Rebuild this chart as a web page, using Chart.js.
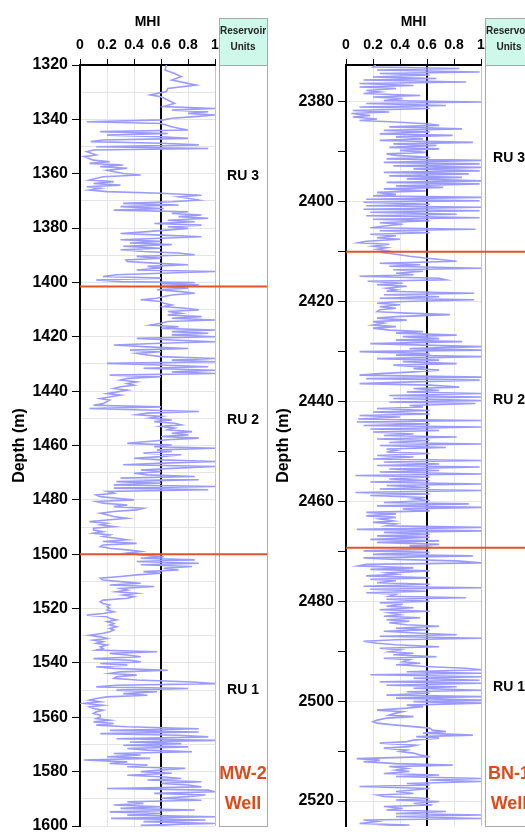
<!DOCTYPE html>
<html>
<head>
<meta charset="utf-8">
<script src="https://cdn.jsdelivr.net/npm/chart.js@4.4.1/dist/chart.umd.min.js"></script>
<style>
  html, body { margin: 0; padding: 0; background: #fff; width: 525px; height: 832px; overflow: hidden; }
  canvas { position: absolute; top: 0; }
  #mw { left: 0; }
  #bn { left: 270px; }
</style>
</head>
<body>
<canvas id="mw" width="270" height="832"></canvas>
<canvas id="bn" width="270" height="832"></canvas>
<script>
// MHI cutoff and x ticks
const cutoff = 0.6;
const mhiTicks = [0, 0.2, 0.4, 0.6, 0.8, 1];

// MW-2 well log (depth in m, MHI)
const mwDepth = [
  1320.0,1321.8,1323.1,1324.3,1325.5,1327.4,1328.6,1329.8,1331.0,1331.7,1332.9,1334.1,1335.3,1336.0,1336.6,1337.2,1337.8,1338.4,1339.0,1339.6,
  1340.2,1340.9,1341.5,1342.7,1343.3,1343.9,1344.5,1345.2,1345.8,1346.4,1347.0,1347.6,1348.2,1348.8,1349.4,1350.1,1350.7,1351.3,1351.9,1353.1,
  1353.7,1355.0,1355.6,1356.2,1356.8,1357.4,1358.0,1358.7,1359.9,1360.5,1361.1,1362.3,1362.9,1363.6,1364.2,1364.8,1365.4,1366.0,1366.6,1367.2,
  1367.9,1368.5,1369.7,1370.3,1370.9,1371.5,1372.1,1372.8,1373.4,1374.0,1374.6,1375.2,1375.8,1376.4,1377.1,1377.7,1378.3,1378.9,1379.5,1380.1,
  1381.3,1382.0,1382.6,1383.2,
  1384.3,1384.9,1385.5,1386.1,1386.7,1387.4,1388.0,1388.6,1389.2,1389.8,1390.4,1391.1,1391.7,1392.3,1392.9,1393.5,1394.1,1394.7,1395.4,1396.0,
  1396.6,1397.2,1397.8,1398.4,1399.1,1399.7,1400.0,1400.5,1400.9,
  1401.5,1402.1,1402.7,1403.4,1404.0,1404.6,1405.2,1405.8,1406.4,1407.0,1407.7,1408.3,1408.9,1409.5,1410.1,1410.7,1411.4,1412.0,1412.6,1413.2,
  1413.8,1414.4,1415.0,1415.7,1416.3,1416.9,1417.5,1418.1,1418.7,1419.3,1420.0,1420.6,1421.2,1421.8,1422.4,1423.0,1423.7,1424.3,1424.9,1425.5,
  1426.1,1426.7,1427.3,1428.0,1428.6,1429.2,1429.8,1430.4,1431.0,1431.6,1432.3,1432.9,1433.5,1434.1,1434.7,1435.3,1435.9,1436.6,1437.2,1437.8,
  1438.4,1439.0,1439.6,1440.9,1441.5,1442.7,1443.3,1444.6,1445.2,1445.8,1446.4,
  1447.5,1448.1,1448.7,1449.3,1449.9,1450.6,1451.2,1451.8,1452.4,1453.0,1453.6,1454.2,1454.9,1455.5,1456.1,1456.7,1457.3,1457.9,1458.5,1459.2,
  1459.8,1460.4,1461.0,1461.6,1462.2,1462.8,1463.4,1464.1,1464.7,1465.3,1465.9,1466.5,1467.1,1467.7,1468.4,1469.0,1469.6,1470.2,1470.8,1471.4,
  1472.0,1472.6,1473.3,1473.9,1474.5,1475.1,1475.7,1476.3,1476.9,1477.6,1478.2,1478.8,1479.4,1480.0,1480.6,1481.2,1481.9,1482.5,1483.1,1483.7,
  1484.3,1484.9,1485.5,1486.1,1486.8,1487.4,1488.0,1488.6,1489.2,1489.8,1490.4,1491.1,1491.7,1492.3,1492.9,1493.5,1494.1,1494.7,1495.3,1496.0,
  1496.6,1497.2,1497.8,1498.4,1499.0,1499.6,1500.3,1500.9,1501.5,1502.1,1502.7,1503.3,1503.9,1504.5,1505.2,1505.8,1506.4,1507.0,1507.6,1508.2,1508.8,
  1509.5,1510.1,1510.7,1511.3,1511.9,1512.6,1513.2,1513.8,1514.4,1515.0,1515.6,1516.2,1516.9,1517.5,1518.1,1518.7,1519.3,1519.9,1520.5,1521.2,
  1521.8,1522.4,1523.0,1523.6,1524.2,1524.8,1525.5,1526.1,1526.7,1527.3,1527.9,1528.5,1529.1,1529.8,1530.4,1531.0,1531.6,1532.2,1532.8,1533.4,
  1534.1,1534.7,1535.3,1535.9,1536.5,1537.1,1537.7,1538.4,1539.0,1539.6,1540.2,1540.8,1541.4,1542.0,1542.7,1543.3,1543.9,1544.5,1545.1,1545.7,
  1546.3,1547.0,1547.6,1548.2,1548.8,1549.4,1550.0,1550.6,1551.3,1551.9,1552.5,1553.1,1553.7,1554.3,1554.9,1555.6,1556.2,1556.8,1557.4,1558.0,
  1558.6,1559.2,1559.9,1560.5,1561.1,1561.7,1562.3,1562.9,1563.5,1564.2,1564.8,1565.4,1566.0,1566.6,1567.2,1567.9,1568.5,1569.1,1569.7,1570.3,
  1570.9,1571.5,
  1572.1,1572.7,1573.3,1573.9,1574.5,1575.1,1575.7,1576.4,1577.0,1577.6,1578.2,1578.8,1579.4,1580.0,1580.6,1581.3,1581.9,1582.5,1583.1,1583.7,
  1584.3,1584.9,1585.6,1586.2,1586.8,1587.4,1588.0,1588.6,1589.2,1589.8,1590.5,1591.1,1591.7,1592.3,1592.9,1593.5,1594.1,1594.8,1595.4,1596.0,
  1596.6,1597.2,1597.8,1598.4,1599.1,1599.7,1600.3
];
const mwMhi = [
  0.64,0.63,0.70,0.75,0.68,0.86,0.65,0.64,0.52,0.60,0.65,0.70,0.62,1.00,0.68,0.95,0.80,1.00,0.85,0.68,
  0.62,0.05,0.60,0.68,0.73,0.80,0.15,0.65,0.20,0.60,0.80,0.17,0.08,0.60,0.88,0.12,0.95,0.10,0.05,0.12,
  0.03,0.10,0.22,0.07,0.32,0.15,0.35,0.20,0.32,0.45,0.17,0.07,0.25,0.10,0.30,0.05,0.15,0.07,0.20,0.60,
  0.90,0.73,0.88,0.68,0.32,0.73,0.30,0.62,0.25,0.80,0.68,0.90,0.73,0.95,0.65,0.85,0.55,0.90,0.65,0.80,
  0.50,0.30,0.60,0.90,
  0.30,0.60,0.37,0.68,0.32,0.60,0.30,0.47,0.73,0.85,0.42,0.60,0.34,0.35,0.55,0.80,0.50,0.60,0.42,1.00,
  0.60,0.27,0.17,0.60,0.12,0.30,0.85,0.60,0.88,
  0.60,0.80,0.57,0.75,0.85,0.68,0.62,0.57,0.45,0.60,0.62,0.68,0.62,0.78,0.88,0.65,0.75,0.65,0.90,0.68,
  1.00,0.65,0.60,0.52,0.73,0.60,1.00,0.68,0.95,0.68,1.00,0.42,0.68,1.00,0.60,0.25,0.50,0.80,0.37,0.60,
  0.42,0.50,0.60,1.00,0.68,1.00,0.20,0.60,0.95,0.47,1.00,0.68,1.00,0.22,0.60,0.35,0.30,0.42,0.35,0.40,
  0.30,0.25,0.35,0.20,0.30,0.15,0.22,0.17,0.10,0.60,0.07,
  0.88,0.50,0.42,0.60,0.52,0.68,0.55,0.70,0.75,0.60,0.70,0.65,0.83,0.68,0.80,0.60,0.88,0.65,0.50,0.35,
  0.68,0.55,1.00,0.57,0.68,0.47,0.75,0.60,0.40,0.60,1.00,0.62,0.32,1.00,0.68,0.45,0.60,0.40,0.50,0.85,
  0.30,0.88,0.27,0.60,0.25,1.00,0.25,0.95,0.20,0.25,0.12,0.15,0.27,0.40,0.12,0.17,0.35,0.25,0.47,0.42,
  0.25,0.15,0.20,0.25,0.35,0.20,0.07,0.20,0.15,0.25,0.10,0.10,0.17,0.10,0.22,0.17,0.27,0.35,0.17,0.42,
  0.17,0.15,0.22,0.35,0.45,0.35,0.45,0.62,0.45,0.85,0.42,0.88,0.45,0.83,0.62,0.73,0.47,0.60,0.42,0.30,0.15,
  0.17,0.30,0.45,0.22,0.55,0.30,0.35,0.27,0.42,0.32,0.40,0.35,0.17,0.15,0.17,0.22,0.20,0.22,0.20,0.25,
  0.17,0.05,0.20,0.22,0.27,0.20,0.25,0.22,0.27,0.22,0.25,0.22,0.17,0.07,0.15,0.20,0.10,0.17,0.12,0.20,
  0.15,0.17,0.12,0.57,0.22,0.35,0.45,0.10,0.37,0.45,0.15,0.35,0.12,0.25,0.65,0.30,0.22,0.42,0.27,0.25,
  0.42,0.83,1.00,0.27,0.12,0.80,0.27,0.57,0.32,0.50,0.20,0.12,0.07,0.15,0.03,0.17,0.07,0.10,0.17,0.12,
  0.10,0.15,0.15,0.12,0.22,0.10,0.25,0.12,0.35,0.88,0.22,0.88,0.15,0.73,0.95,0.27,1.00,0.37,0.75,0.32,
  0.80,0.35,
  0.50,0.83,0.25,0.45,0.20,0.52,0.03,0.35,0.22,0.50,0.35,0.78,0.60,0.45,0.68,0.35,0.60,0.75,0.50,0.90,
  0.60,0.80,0.90,0.20,0.95,1.00,0.55,0.93,0.80,0.60,0.90,0.35,0.47,0.25,0.60,0.30,0.85,0.22,0.60,0.35,
  1.00,0.23,0.93,0.47,1.00,0.45,0.73
];

// BN-1 well log (depth in m, MHI)
const bnDepth = [
  2372.6,
  2373.0,2373.3,2373.6,2374.0,2374.3,2374.6,2375.0,2375.3,2375.6,2376.0,2376.3,2376.7,2377.0,2377.3,2377.7,2378.0,2378.3,2378.7,2379.0,2379.3,
  2379.7,2380.0,2380.3,2380.7,2381.0,2381.3,2381.7,2382.0,2382.3,2382.7,2383.0,2383.4,2383.7,2384.0,2384.4,2384.7,2385.0,2385.4,2385.7,2386.0,
  2386.4,2386.7,2387.0,2387.4,2387.7,2388.1,2388.4,2388.7,2389.1,2389.4,2389.7,2390.1,2390.4,2390.7,2391.1,2391.4,2391.7,2392.1,2392.4,2392.8,
  2393.1,2393.4,2393.8,2394.1,2394.4,2394.8,2395.1,2395.4,2395.8,2396.1,2396.4,2396.8,2397.1,2397.4,2397.8,2398.1,2398.5,2398.8,2399.1,2399.5,
  2399.8,2400.1,2400.5,2400.8,2401.1,2401.5,2401.8,2402.1,2402.5,2402.8,2403.2,2403.5,2403.8,2404.2,2404.5,2404.8,2405.2,2405.5,2405.8,2406.2,
  2406.5,2406.8,2407.2,2407.5,2407.9,2408.2,2408.5,2408.9,2409.2,2409.5,2409.9,2410.2,2410.5,2410.9,2411.2,
  2411.9,2412.3,2412.6,2412.9,2413.3,2413.6,2413.9,2414.3,2414.6,2414.9,2415.3,2415.6,2415.9,2416.3,2416.6,2416.9,2417.3,2417.6,2417.9,2418.3,
  2418.6,2419.0,2419.3,2419.6,2420.0,2420.3,2420.6,2421.0,2421.3,2421.6,2422.0,2422.3,2422.6,2423.0,2423.3,2423.7,2424.0,2424.3,2424.7,2425.0,
  2425.3,2425.7,2426.0,2426.3,2426.7,2427.0,2427.4,2427.7,2428.0,2428.4,2428.7,2429.0,2429.4,2429.7,2430.0,2430.4,2430.7,2431.0,2431.4,2431.7,
  2432.0,2432.4,2432.7,2433.1,2433.4,2433.7,2434.1,2434.4,2434.7,2435.1,2435.4,2435.7,2436.1,2436.4,2436.7,2437.1,2437.4,2437.8,2438.1,2438.4,
  2438.8,2439.1,2439.4,2439.8,2440.1,2440.4,2440.8,2441.1,2441.4,2441.8,2442.1,2442.5,2442.8,2443.1,2443.5,2443.8,2444.1,2444.5,2444.8,2445.1,
  2445.5,2445.8,2446.1,2446.5,2446.8,2447.1,2447.5,2447.8,2448.2,2448.5,2448.8,2449.2,2449.5,2449.8,
  2450.1,2450.4,2450.8,2451.1,2451.5,2451.8,2452.1,2452.5,2452.8,2453.1,2453.5,2453.8,2454.1,2454.5,2454.8,2455.1,2455.5,2455.8,2456.1,2456.5,
  2456.8,2457.2,2457.5,2457.8,2458.2,2458.5,2458.8,2459.2,2459.5,2459.8,2460.2,2460.5,2460.9,2461.2,2461.5,2461.9,2462.2,2462.5,2462.9,2463.2,
  2463.5,2463.9,2464.2,2464.5,2464.9,2465.2,2465.6,2465.9,2466.2,2466.6,2466.9,2467.2,2467.6,2467.9,2468.2,2468.6,2468.9,2469.2,2469.6,2469.9,
  2470.2,2470.6,2470.9,2471.3,2471.6,2471.9,2472.3,2472.6,2472.9,2473.3,2473.6,2473.9,2474.3,2474.6,2474.9,2475.3,2475.6,2475.9,2476.3,2476.6,
  2477.0,2477.3,2477.6,2478.0,2478.3,2478.6,2479.0,2479.3,2479.6,2480.0,2480.3,2480.6,2481.0,2481.3,2481.7,2482.0,2482.3,2482.7,2483.0,2483.3,
  2483.7,2484.0,2484.3,2484.7,2485.0,2485.4,2485.7,2486.0,2486.4,2486.7,2487.0,2487.4,2487.7,2488.0,
  2488.4,2488.7,2489.1,2489.4,2489.7,2490.1,2490.4,2490.7,2491.1,2491.4,2491.7,2492.1,2492.4,2492.7,2493.1,2493.4,2493.7,2494.1,2494.4,2494.7,
  2495.1,2495.4,2495.8,2496.1,2496.4,2496.8,2497.1,2497.4,2497.8,2498.1,2498.4,2498.8,2499.1,2499.4,2499.8,2500.1,2500.4,2500.8,2501.1,2501.4,
  2501.8,2502.1,2502.4,2502.8,2503.1,2503.4,2503.8,2504.1,2504.4,2504.8,2505.1,2505.4,2505.8,2506.1,2506.4,2506.8,2507.1,2507.4,2507.8,2508.1,
  2508.4,2508.8,2509.1,2509.4,2509.8,2510.1,2510.4,2510.8,2511.1,2511.5,2511.8,2512.1,2512.5,2512.8,2513.1,2513.5,2513.8,2514.1,2514.5,2514.8,
  2515.1,2515.5,2515.8,2516.1,2516.5,2516.8,2517.1,2517.5,2517.8,2518.1,2518.5,2518.8,2519.1,2519.5,2519.8,2520.1,2520.5,2520.8,2521.1,2521.5,
  2521.8,2522.1,2522.5,2522.8,2523.1,2523.5,2523.8,2524.1,2524.5,2524.8,2525.1
];
const bnMhi = [
  0.22,
  0.20,0.84,0.23,0.99,0.25,0.62,0.20,0.67,0.13,0.89,0.10,0.50,0.10,0.37,0.15,0.25,0.13,0.55,0.20,0.42,
  0.28,1.00,0.15,0.74,0.10,0.62,0.05,0.32,0.04,0.18,0.05,0.23,0.10,0.37,0.62,0.69,0.32,0.86,0.28,0.62,
  0.25,0.79,0.37,0.57,0.25,0.94,0.35,0.67,0.32,0.69,0.40,0.59,0.30,0.37,0.62,0.30,1.00,0.28,0.99,0.35,
  1.00,0.50,0.99,0.28,0.91,0.32,0.86,0.45,1.00,0.30,0.99,0.37,0.72,0.28,0.59,0.23,0.37,0.20,1.00,0.15,
  0.99,0.13,0.62,0.15,1.00,0.13,0.99,0.18,0.82,0.15,0.99,0.20,0.62,0.25,0.42,0.30,0.18,0.96,0.25,0.62,
  0.18,0.37,0.23,0.40,0.15,0.09,0.32,0.20,0.30,0.23,0.32,0.28,0.37,0.47,0.57,
  0.82,0.25,0.55,0.32,1.00,0.35,0.57,0.37,0.50,0.10,0.69,0.74,0.16,0.42,0.23,0.45,0.30,0.37,0.30,0.95,
  0.28,0.69,0.25,0.95,0.37,0.23,0.40,0.25,0.37,0.25,0.23,0.45,0.77,0.37,0.23,0.45,0.20,0.28,0.20,0.37,
  0.20,0.32,0.57,0.37,0.82,0.42,0.69,0.37,0.86,0.18,0.57,1.00,0.47,1.00,0.10,0.62,0.37,1.00,0.23,0.69,
  0.42,0.82,0.35,0.59,0.50,0.69,0.47,0.25,0.10,1.00,0.15,0.99,0.42,0.10,0.62,0.84,0.50,0.69,0.45,1.00,
  0.32,1.00,0.35,1.00,0.32,0.96,0.47,0.57,0.23,0.62,0.20,0.62,0.10,0.40,0.09,1.00,0.08,0.62,0.13,1.00,
  0.18,0.69,0.20,0.50,0.28,0.82,0.23,0.62,0.32,1.00,0.25,0.74,0.30,0.37,
  0.30,0.62,0.23,0.50,0.20,1.00,0.28,0.69,0.23,0.99,0.32,0.69,0.25,1.00,0.07,0.62,0.32,0.62,0.18,1.00,
  0.30,0.62,0.25,1.00,0.07,0.62,0.18,0.59,0.50,0.62,0.28,0.91,0.23,1.00,0.42,0.62,0.15,0.37,0.15,0.37,
  0.25,0.35,0.20,0.37,0.30,1.00,0.08,1.00,0.28,0.62,0.23,0.62,0.18,0.69,0.23,0.69,0.47,0.62,0.59,0.13,
  0.62,0.20,0.94,0.13,0.37,0.82,1.00,0.15,0.09,0.50,0.18,0.62,0.30,0.37,0.15,0.62,0.18,0.37,0.23,0.62,
  0.13,1.00,0.18,0.59,0.15,0.37,0.32,0.89,0.30,0.62,0.25,0.42,0.30,0.50,0.25,0.62,0.32,0.40,0.28,0.55,
  0.30,0.47,0.32,0.45,0.69,0.37,0.62,0.28,0.55,0.82,0.25,1.00,0.37,0.13,
  0.23,0.37,0.69,0.25,0.40,0.32,0.50,0.35,0.67,0.28,0.47,0.42,0.55,0.37,0.62,0.89,1.00,0.45,1.00,0.18,
  1.00,0.50,0.99,0.25,1.00,0.30,0.82,0.50,1.00,0.45,0.62,0.30,1.00,0.37,1.00,0.50,1.00,0.45,0.57,0.45,
  0.23,0.42,0.37,0.32,0.50,0.30,0.23,0.20,0.23,0.37,0.50,0.62,0.64,0.74,0.57,0.94,0.52,0.69,0.50,0.45,
  0.25,0.52,0.47,0.28,0.45,0.40,0.50,0.55,0.62,0.08,0.25,0.13,0.37,0.79,0.32,0.45,0.37,0.47,0.28,0.69,
  0.37,1.00,0.62,1.00,0.45,0.62,0.10,0.62,0.50,0.37,0.50,0.23,0.28,0.62,0.37,0.69,0.50,0.64,0.28,0.42,
  0.30,0.74,0.37,1.00,0.37,1.00,0.13,0.23,0.10,0.47,0.23
];

// reservoir unit boundaries (m) and names, top to bottom
const mwTops = [1401.5, 1500];
const bnTops = [2410, 2469.3];
const unitNames = ['RU 3', 'RU 2', 'RU 1'];
const mwRange = [1320, 1600];
const bnRange = [2372.6, 2525];

const FONT = '"Liberation Sans", Arial, sans-serif';
const LOG_COLOR = '#9b9bff';
const TOP_COLOR = '#e0542a';
const WELL_COLOR = '#df4a18';

// draws the reservoir units column, unit tops and well name
const unitsPlugin = {
  id: 'units',
  afterDraw(chart, args, opts) {
    const { ctx, chartArea: a, scales: { y } } = chart;
    const x0 = a.right + 4, w = 48, x1 = x0 + w, cx = x0 + w / 2;
    ctx.save();
    // header box
    ctx.fillStyle = '#cdf8ea';
    ctx.fillRect(x0, 18, w, a.top - 18);
    ctx.strokeStyle = '#a9a9a9';
    ctx.lineWidth = 1;
    ctx.strokeRect(x0 + 0.5, 18.5, w, a.top - 18);
    ctx.strokeRect(x0 + 0.5, a.top + 0.5, w, a.bottom - a.top);
    ctx.fillStyle = '#222';
    ctx.font = 'bold 10px ' + FONT;
    ctx.textAlign = 'center';
    ctx.textBaseline = 'middle';
    ctx.fillText('Reservoir', cx, 31);
    ctx.fillText('Units', cx, 47);
    // unit tops
    ctx.strokeStyle = TOP_COLOR;
    ctx.lineWidth = 2;
    opts.tops.forEach(t => {
      const py = y.getPixelForValue(t);
      ctx.beginPath();
      ctx.moveTo(a.left, py);
      ctx.lineTo(x1, py);
      ctx.stroke();
    });
    // unit names, centred in each zone
    const bounds = [y.min, ...opts.tops, y.max];
    ctx.fillStyle = '#000';
    ctx.font = 'bold 14px ' + FONT;
    unitNames.forEach((n, i) => {
      const mid = (bounds[i] + bounds[i + 1]) / 2;
      ctx.fillText(n, cx, y.getPixelForValue(mid));
    });
    // well name
    ctx.fillStyle = WELL_COLOR;
    ctx.font = 'bold 18px ' + FONT;
    ctx.fillText(opts.well, cx, a.bottom - 52);
    ctx.fillText('Well', cx, a.bottom - 22);
    ctx.restore();
  }
};

function wellChart(id, depth, mhi, range, tops, well, yWidth, minorTicks, titlePad) {
  const n = Math.min(depth.length, mhi.length);
  const pts = [];
  for (let i = 0; i < n; i++) pts.push({ x: mhi[i], y: depth[i] });

  new Chart(document.getElementById(id), {
    type: 'scatter',
    data: {
      datasets: [
        { data: pts, showLine: true, borderColor: LOG_COLOR, borderWidth: 1.6, pointRadius: 0, tension: 0 },
        { data: [{ x: cutoff, y: range[0] }, { x: cutoff, y: range[1] }], showLine: true,
          borderColor: '#000', borderWidth: 2, pointRadius: 0 }
      ]
    },
    options: {
      responsive: false,
      animation: false,
      events: [],
      layout: { padding: { top: 0, right: 270 - yWidth - 135, bottom: 6, left: 0 } },
      plugins: {
        legend: { display: false },
        tooltip: { enabled: false },
        units: { tops: tops, well: well }
      },
      scales: {
        x: {
          type: 'linear', position: 'top', min: 0, max: 1,
          afterBuildTicks: s => { s.ticks = mhiTicks.map(v => ({ value: v })); },
          afterFit: s => { s.height = 65; s.paddingLeft = 0; s.paddingRight = 0; },
          ticks: { color: '#000', font: { family: FONT, size: 14, weight: 'bold' }, padding: 5,
                   maxRotation: 0, callback: v => String(Math.round(v * 10) / 10) },
          grid: { color: c => c.tick && c.tick.value === 1 ? '#c4c4c4' : '#e4e4e4',
                  tickColor: '#000', tickLength: 6, lineWidth: 1 },
          border: { color: '#000', width: 2 },
          title: { display: true, text: 'MHI', color: '#000',
                   font: { family: FONT, size: 14, weight: 'bold' }, padding: { top: 14, bottom: 0 } }
        },
        y: {
          type: 'linear', reverse: true, min: range[0], max: range[1],
          afterBuildTicks: s => { s.ticks = s.ticks.filter(t => Math.abs(t.value % 10) < 1e-6); },
          afterFit: s => { s.width = yWidth; s.paddingTop = 0; s.paddingBottom = 0; },
          ticks: { stepSize: 10, color: '#000', font: { family: FONT, size: 16, weight: 'bold' }, padding: 4,
                   callback: v => (v % 20 === 0 ? v : '') },
          grid: {
            color: c => (minorTicks && c.tick && c.tick.value % 20 !== 0) ? 'transparent' : '#e4e4e4',
            tickColor: c => (!minorTicks && c.tick && c.tick.value % 20 !== 0) ? 'transparent' : '#000',
            tickLength: 8, lineWidth: 1
          },
          border: { color: '#000', width: 2 },
          title: { display: true, text: 'Depth (m)', color: '#000',
                   font: { family: FONT, size: 16, weight: 'bold' }, padding: { top: titlePad, bottom: 0 } }
        }
      }
    },
    plugins: [unitsPlugin]
  });
}

wellChart('mw', mwDepth, mwMhi, mwRange, mwTops, 'MW-2', 80, false, 10);
wellChart('bn', bnDepth, bnMhi, bnRange, bnTops, 'BN-1', 76, true, 4);
</script>
</body>
</html>
